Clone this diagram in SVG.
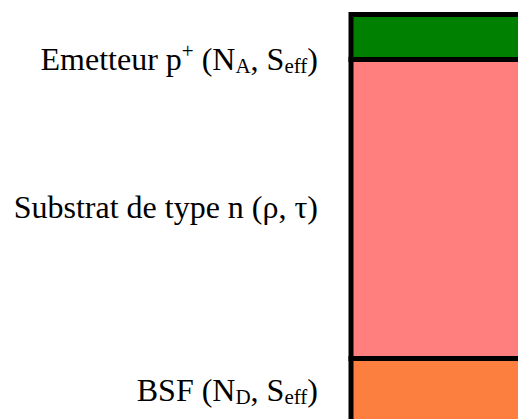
<svg xmlns="http://www.w3.org/2000/svg" width="518" height="419" viewBox="0 0 518 419">
<style>
.lbl{font-family:"Liberation Serif","Times New Roman",serif;font-size:32px;fill:#000;text-anchor:end}
.s{font-size:21px}
.layer{stroke:#000;stroke-width:5}
</style>
<rect width="518" height="419" fill="#fff"/>
<g id="emitter">
<rect class="layer" x="351" y="14.5" width="200" height="45" fill="#008000"/>
<text class="lbl" x="318" y="70">Emetteur p<tspan class="s" dy="-12">+</tspan><tspan dy="12"> (N</tspan><tspan class="s" dy="3">A</tspan><tspan dy="-3">, S</tspan><tspan class="s" dy="3">eff</tspan><tspan dy="-3">)</tspan></text>
</g>
<g id="substrate">
<rect class="layer" x="351" y="59.5" width="200" height="299" fill="#ff7f7f"/>
<text class="lbl" x="318" y="218">Substrat de type n (ρ, τ)</text>
</g>
<g id="bsf">
<rect class="layer" x="351" y="358.5" width="200" height="80" fill="#fd7f3f"/>
<text class="lbl" x="318" y="401">BSF (N<tspan class="s" dy="3">D</tspan><tspan dy="-3">, S</tspan><tspan class="s" dy="3">eff</tspan><tspan dy="-3">)</tspan></text>
</g>
<g id="connectors"/>
</svg>
